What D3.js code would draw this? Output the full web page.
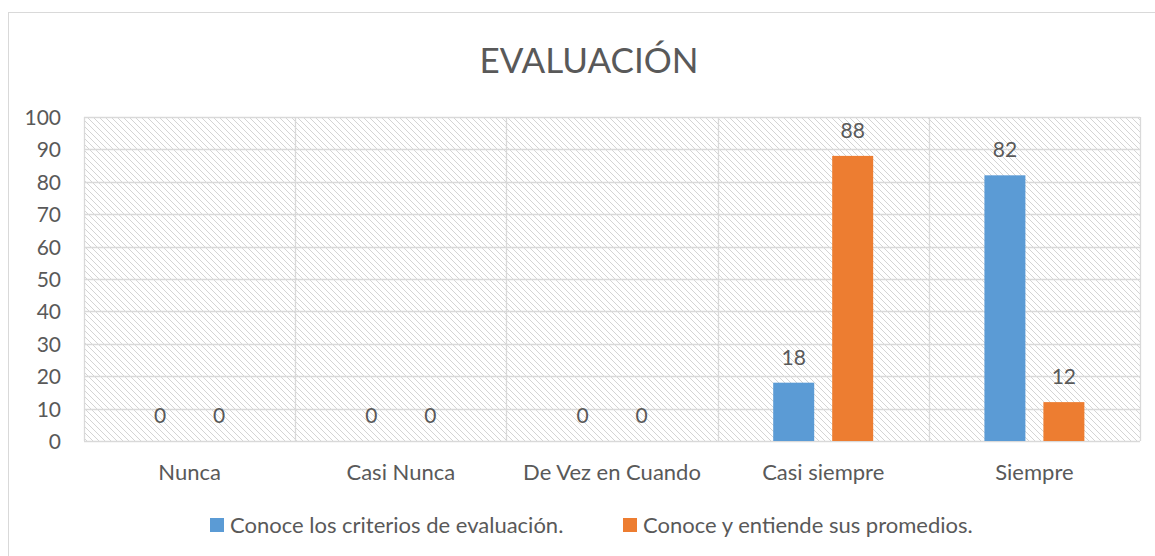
<!DOCTYPE html>
<html>
<head>
<meta charset="utf-8">
<script src="https://cdn.jsdelivr.net/npm/d3@7"></script>
<style>
  body { margin: 0; background: white; }
  text { font-family: Lato, "Open Sans", sans-serif; fill: #595959; }
</style>
</head>
<body>
<div id="main-section"></div>
<script>
const categories = ["Nunca", "Casi Nunca", "De Vez en Cuando", "Casi siempre", "Siempre"];
const seriesNames = ["Conoce los criterios de evaluación.", "Conoce y entiende sus promedios."];
const criterios = [0, 0, 0, 18, 82];
const promedios = [0, 0, 0, 88, 12];
const yTicks = [0, 10, 20, 30, 40, 50, 60, 70, 80, 90, 100];
const colors = ["#5b9bd5", "#ed7d31"];

const width = 1155, height = 556;
const plot = { left: 84, top: 117, right: 1140, bottom: 441 };

const svg = d3.select("#main-section")
  .append("svg")
    .attr("width", width)
    .attr("height", height);

// hatch pattern for the plot area
const pattern = svg.append("defs")
  .append("pattern")
    .attr("id", "hatch")
    .attr("patternUnits", "userSpaceOnUse")
    .attr("width", 6)
    .attr("height", 6);
pattern.append("path")
  .attr("d", "M-1,-1 L7,7 M-7,-1 L1,7 M5,-1 L13,7")
  .attr("stroke", "#d4d4d4")
  .attr("stroke-width", 1);

// chart border
svg.append("rect")
  .attr("x", 8.5).attr("y", 12.5)
  .attr("width", 1160).attr("height", 560)
  .attr("fill", "none")
  .attr("stroke", "#d9d9d9")
  .attr("stroke-width", 1);

svg.append("text")
  .attr("x", 589)
  .attr("y", 73)
  .attr("text-anchor", "middle")
  .attr("font-size", 35)
  .text("EVALUACIÓN");

const x = d3.scaleBand()
  .domain(categories)
  .range([plot.left, plot.right]);

const x1 = d3.scaleBand()
  .domain([0, 1])
  .range([0, x.bandwidth()])
  .paddingInner(0.305)
  .paddingOuter(0.943);

const y = d3.scaleLinear()
  .domain([0, 100])
  .range([plot.bottom, plot.top]);

svg.append("rect")
  .attr("x", plot.left).attr("y", plot.top)
  .attr("width", plot.right - plot.left)
  .attr("height", plot.bottom - plot.top)
  .attr("fill", "url(#hatch)");

// horizontal gridlines
svg.append("g")
  .selectAll("line")
  .data(yTicks).enter()
  .append("line")
    .attr("x1", plot.left).attr("x2", plot.right)
    .attr("y1", function(d) { return Math.round(y(d)) + 0.5; })
    .attr("y2", function(d) { return Math.round(y(d)) + 0.5; })
    .attr("stroke", "#d9d9d9")
    .attr("stroke-width", 1.3);

// vertical category separators
const edges = categories.map(function(c) { return x(c); }).concat([plot.right]);
svg.append("g")
  .selectAll("line")
  .data(edges).enter()
  .append("line")
    .attr("x1", function(d) { return Math.round(d) + 0.5; })
    .attr("x2", function(d) { return Math.round(d) + 0.5; })
    .attr("y1", plot.top).attr("y2", plot.bottom)
    .attr("stroke", "#d9d9d9")
    .attr("stroke-width", 1.3);

// y axis labels
const yAxis = svg.append("g")
  .attr("transform", "translate(61,0)")
  .call(d3.axisLeft(y).tickValues(yTicks).tickSize(0).tickPadding(0));
yAxis.select(".domain").remove();
yAxis.selectAll("text")
  .attr("font-size", 21)
  .attr("dy", "0.36em")
  .style("font-family", "Lato, sans-serif")
  .attr("fill", "#595959");

// x axis labels
const xAxis = svg.append("g")
  .attr("transform", "translate(0," + plot.bottom + ")")
  .call(d3.axisBottom(x).tickSize(0));
xAxis.select(".domain").remove();
xAxis.selectAll("text")
  .attr("y", 39)
  .attr("dy", 0)
  .attr("font-size", 22)
  .style("font-family", "Lato, sans-serif")
  .attr("fill", "#595959");

const series = [criterios, promedios];
series.forEach(function(vals, s) {
  const g = svg.append("g");
  g.selectAll("rect")
    .data(vals).enter()
    .append("rect")
      .attr("x", function(d, i) { return x(categories[i]) + x1(s); })
      .attr("y", function(d) { return y(d); })
      .attr("width", x1.bandwidth())
      .attr("height", function(d) { return y(0) - y(d); })
      .attr("fill", colors[s]);
  g.selectAll("text")
    .data(vals).enter()
    .append("text")
      .attr("x", function(d, i) { return x(categories[i]) + x1(s) + x1.bandwidth() / 2; })
      .attr("y", function(d) { return y(d) - 18; })
      .attr("text-anchor", "middle")
      .attr("font-size", 21)
      .text(function(d) { return d; });
});

// legend
const legendX = [210, 623];
const legend = svg.append("g");
seriesNames.forEach(function(name, s) {
  legend.append("rect")
    .attr("x", legendX[s]).attr("y", 518)
    .attr("width", 14).attr("height", 14)
    .attr("fill", colors[s]);
  legend.append("text")
    .attr("x", legendX[s] + 20)
    .attr("y", 533)
    .attr("font-size", 22)
    .text(name);
});
</script>
</body>
</html>
